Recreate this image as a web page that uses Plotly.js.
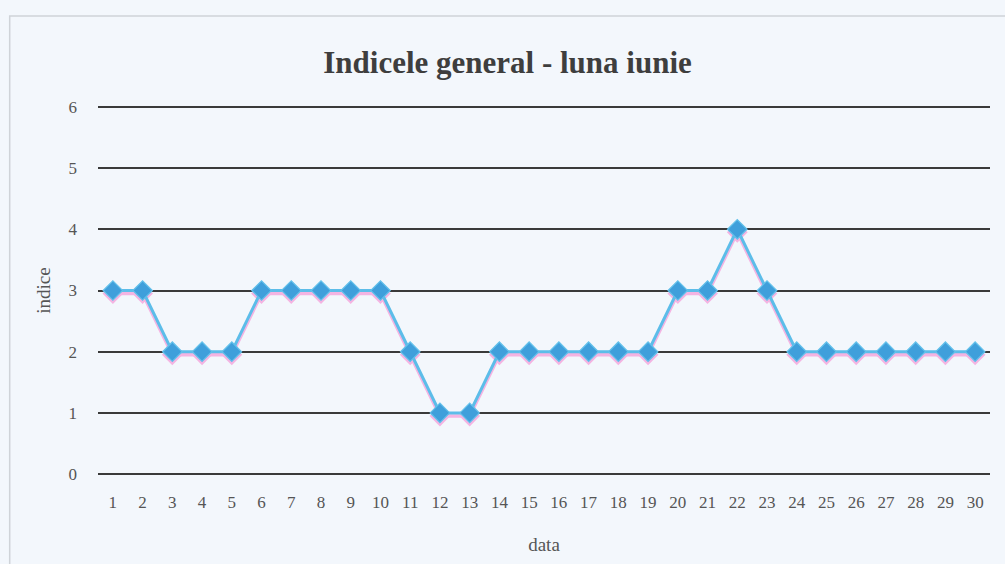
<!DOCTYPE html>
<html><head><meta charset="utf-8">
<script src="https://cdn.plot.ly/plotly-3.0.1.min.js"></script>
<style>html,body{margin:0;padding:0;background:#f3f7fc;}#chart{width:1005px;height:564px;}</style>
</head><body><div id="chart"></div>
<script>
const days = ["1","2","3","4","5","6","7","8","9","10","11","12","13","14","15","16","17","18","19","20","21","22","23","24","25","26","27","28","29","30"];
const indice = [3,3,2,2,2,3,3,3,3,3,2,1,1,2,2,2,2,2,2,3,3,4,3,2,2,2,2,2,2,2];
const yTicks = [0,1,2,3,4,5,6];

const R = [-0.03, 6.03];
const base = {
  x: days, y: indice, type: 'scatter', mode: 'lines', yaxis: 'y', opacity: 0,
  line: {width: 0}, hoverinfo: 'skip', showlegend: false
};
const shadow = {
  x: days, y: indice, type: 'scatter', mode: 'lines+markers', yaxis: 'y2',
  line: {color: '#f4b4e2', width: 3.5}, marker: {symbol: 'diamond', size: 16, color: '#f4b4e2'},
  hoverinfo: 'skip', showlegend: false
};
const main = {
  x: days, y: indice, type: 'scatter', mode: 'lines+markers', yaxis: 'y3',
  line: {color: '#5cbde9', width: 3},
  marker: {symbol: 'diamond', size: 15, color: '#3f9fdb', line: {color: '#62c0ea', width: 1.2}},
  showlegend: false
};
const layout = {
  width: 1005, height: 564,
  paper_bgcolor: '#f3f7fc', plot_bgcolor: 'rgba(0,0,0,0)',
  margin: {l: 98, r: 15, t: 105, b: 88},
  font: {family: '"Liberation Serif", "Times New Roman", serif', color: '#555555', size: 17},
  title: {text: '<b>Indicele general - luna iunie</b>', x: 0.505, xanchor: 'center', y: 0.89, yanchor: 'middle',
          font: {family: '"Liberation Serif", "Times New Roman", serif', size: 31, color: '#3e3e3e'}},
  xaxis: {type: 'category', range: [-0.5, 29.5], showgrid: false, zeroline: false, showline: false, ticks: '',
          tickfont: {size: 17, color: '#555555'}, ticklabelstandoff: 14,
          title: {text: 'data', font: {size: 19, color: '#555555'}, standoff: 26}},
  yaxis: {range: R, tickvals: yTicks, showgrid: true, gridcolor: '#3a3a3a', gridwidth: 2,
          zeroline: false, showline: false, ticks: '', ticklabelstandoff: 20,
          tickfont: {size: 17, color: '#555555'},
          title: {text: 'indice', font: {size: 19, color: '#555555'}, standoff: 12}},
  yaxis2: {range: [R[0] + 0.05, R[1] + 0.05], overlaying: 'y', visible: false},
  yaxis3: {range: R, overlaying: 'y', visible: false},
  shapes: [{type: 'rect', xref: 'paper', yref: 'paper', x0: -0.099, x1: 1.02, y0: -0.3, y1: 1.24,
            line: {color: '#cfd3d8', width: 1.5}, fillcolor: 'rgba(0,0,0,0)'}]
};
Plotly.newPlot('chart', [base, shadow, main], layout, {displayModeBar: false, staticPlot: true});
</script></body></html>
